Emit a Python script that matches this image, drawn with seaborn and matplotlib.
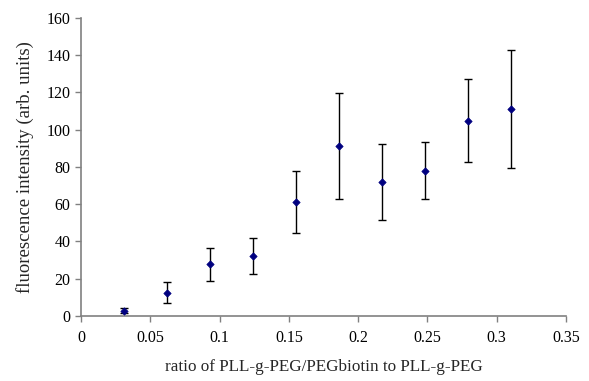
import matplotlib
matplotlib.use("Agg")
import matplotlib.pyplot as plt
import seaborn as sns
import pandas as pd

ratio = [0.031, 0.062, 0.093, 0.124, 0.155, 0.186, 0.217, 0.248, 0.279, 0.310]
intensity = [2.9, 12.5, 27.7, 32.4, 61.0, 91.4, 71.9, 78.0, 104.9, 111.0]
err = [1.3, 5.7, 8.8, 9.6, 16.6, 28.5, 20.2, 15.3, 22.4, 31.6]

df = pd.DataFrame({"ratio": ratio, "intensity": intensity, "err": err})

sns.set_style("white")
plt.rcParams['font.family'] = ['Liberation Serif', 'DejaVu Serif']

fig = plt.figure(figsize=(5.89, 3.81), dpi=100)
ax = fig.add_axes([0.1375, 0.1706, 0.8235, 0.7822])

ax.errorbar(df["ratio"], df["intensity"], yerr=df["err"], fmt="none",
            ecolor="black", elinewidth=1.0, capsize=3, capthick=1.0, zorder=2)
sns.scatterplot(data=df, x="ratio", y="intensity", marker="D", s=14,
                color="#000080", edgecolor="#000080", linewidth=0.5, ax=ax, zorder=3)

ax.set_xlim(0, 0.35)
ax.set_ylim(0, 160)
ax.set_xticks([0, 0.05, 0.1, 0.15, 0.2, 0.25, 0.3, 0.35])
ax.set_xticklabels(["0", "0.05", "0.1", "0.15", "0.2", "0.25", "0.3", "0.35"])
ax.set_yticks(range(0, 161, 20))
for s in ["top", "right"]:
    ax.spines[s].set_visible(False)
for s in ["left", "bottom"]:
    ax.spines[s].set_color("#808080")
    ax.spines[s].set_linewidth(1.2)
ax.tick_params(axis="both", direction="out", length=4, width=1, color="#808080",
               labelsize=11.5, labelcolor="black", left=True, bottom=True)
ax.tick_params(axis="x", pad=6)
ax.set_xlabel("ratio of PLL-g-PEG/PEGbiotin to PLL-g-PEG", fontsize=12.3)
ax.set_ylabel("fluorescence intensity (arb. units)", fontsize=13.5)
ax.xaxis.set_label_coords(0.5, -0.145)
ax.yaxis.set_label_coords(-0.097, 0.5)

fig.savefig("out.png", dpi=100)
